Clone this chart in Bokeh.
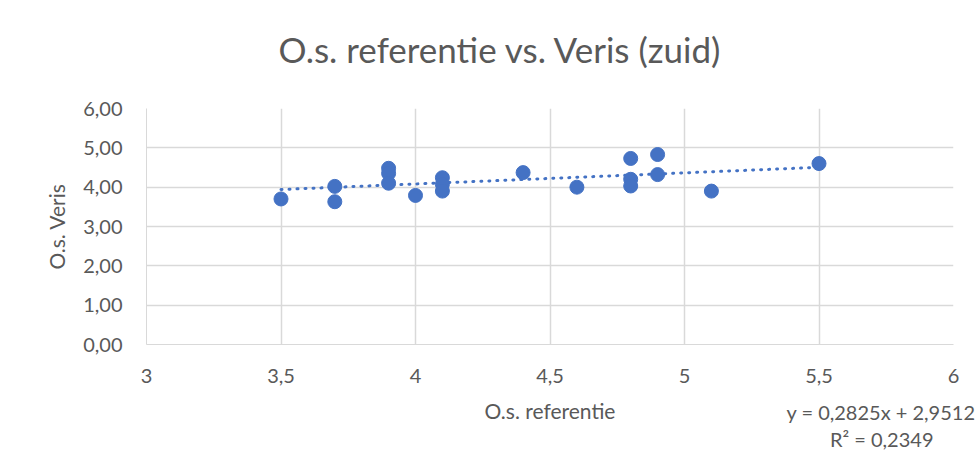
from bokeh.plotting import figure
from bokeh.models import (Range1d, FixedTicker, CustomJSTickFormatter, Title, ColumnDataSource)
from bokeh.embed import file_html
from bokeh.resources import INLINE

# Data
ref_x = [3.5, 3.7, 3.7, 3.9, 3.9, 3.9, 4.0, 4.1, 4.1, 4.1, 4.4, 4.6, 4.8, 4.8, 4.8, 4.9, 4.9, 5.1, 5.5]
veris_y = [3.70, 4.02, 3.63, 4.48, 4.35, 4.10, 3.79, 4.24, 4.07, 3.90, 4.37, 4.00, 4.73, 4.20, 4.03, 4.83, 4.32, 3.90, 4.60]
slope = 0.2825
intercept = 2.9512
r2 = 0.2349
x_ticks = [3, 3.5, 4, 4.5, 5, 5.5, 6]
y_ticks = [0, 1, 2, 3, 4, 5, 6]

FONT = "Lato"
GRAY = "#595959"
BLUE = "#4472C4"

p = figure(width=978, height=457, output_backend="svg", toolbar_location=None,
           x_range=Range1d(3, 6), y_range=Range1d(0, 6),
           min_border_left=146, min_border_right=25, min_border_top=108, min_border_bottom=113,
           title=None)
p.background_fill_color = "white"
p.border_fill_color = "white"
p.outline_line_color = None

xax = p.below[0]
yax = p.left[0]

for ax in (xax, yax):
    ax.axis_line_color = "#d9d9d9"
    ax.major_tick_line_color = None
    ax.minor_tick_line_color = None
    ax.major_tick_out = 0
    ax.major_tick_in = 0
    ax.major_label_text_font = FONT
    ax.major_label_text_font_size = "20px"
    ax.major_label_text_color = GRAY
    ax.axis_label_text_font = FONT
    ax.axis_label_text_font_size = "21px"
    ax.axis_label_text_font_style = "normal"
    ax.axis_label_text_color = GRAY

xax.ticker = FixedTicker(ticks=x_ticks)
yax.ticker = FixedTicker(ticks=y_ticks)
xax.formatter = CustomJSTickFormatter(code="return String(tick).replace('.', ',');")
yax.formatter = CustomJSTickFormatter(code="return tick.toFixed(2).replace('.', ',');")
xax.axis_label = "O.s. referentie"
yax.axis_label = "O.s. Veris"
xax.major_label_standoff = 24
xax.axis_label_standoff = 12
yax.major_label_standoff = 24
yax.axis_label_standoff = 11

title = Title(text="O.s. referentie vs. Veris (zuid)", align="left", offset=132,
              text_font=FONT, text_font_size="35px", text_font_style="normal",
              text_color=GRAY, standoff=-162, vertical_align="top")
p.add_layout(title, "above")

p.xgrid.ticker = FixedTicker(ticks=x_ticks)
p.ygrid.ticker = FixedTicker(ticks=y_ticks)
p.xgrid.grid_line_color = "#d9d9d9"
p.ygrid.grid_line_color = "#d9d9d9"
p.xgrid.grid_line_width = 1.5
p.ygrid.grid_line_width = 1.5

# trendline
xmin, xmax = min(ref_x), max(ref_x)
tl = ColumnDataSource(dict(x=[xmin, xmax], y=[slope * xmin + intercept, slope * xmax + intercept]))
p.line("x", "y", source=tl, line_color=BLUE, line_width=3, line_dash="1 7", line_cap="round")

p.scatter(ref_x, veris_y, size=14, fill_color=BLUE, line_color=BLUE)

eq = "y = " + f"{slope:.4f}".replace(".", ",") + "x + " + f"{intercept:.4f}".replace(".", ",")
rtxt = "R² = " + f"{r2:.4f}".replace(".", ",")
common = dict(text_font=FONT, text_font_style="normal", text_color=GRAY,
              text_font_size="20px", vertical_align="top")
t_eq = Title(text=eq, align="right", offset=-22, standoff=-52, **common)
t_r2 = Title(text=rtxt, align="right", offset=20, standoff=2, **common)
p.add_layout(t_eq, "below")
p.add_layout(t_r2, "below")

open("out.html", "w").write(file_html(p, INLINE))
